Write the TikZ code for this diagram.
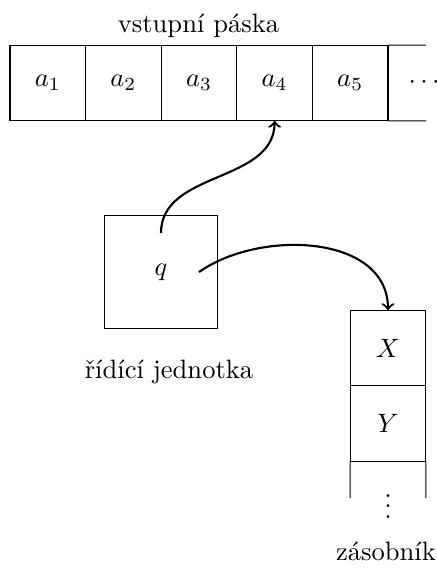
\documentclass[tikz,border=0pt]{standalone}
\usetikzlibrary{calc}
\begin{document}
\begin{tikzpicture}[x=0.013228cm,y=-0.013228cm,
  cell/.style={draw,minimum size=1cm,inner sep=0pt,outer sep=0pt},
  unit/.style={draw,minimum size=1.5cm,inner sep=0pt,outer sep=0pt},
  link/.style={thick,->}]
\useasboundingbox (0,0) rectangle (437,568);

% input tape
\node (tapelabel) at (198.5,25.5) {vstupní páska};
\node[cell] (c1) at (47.8,83) {$a_1$};
\node[cell] (c2) at (123.4,83) {$a_2$};
\node[cell] (c3) at (199,83) {$a_3$};
\node[cell] (c4) at (274.6,83) {$a_4$};
\node[cell] (c5) at (350.2,83) {$a_5$};
\coordinate (tapeNE) at (426,45.2);
\coordinate (tapeSE) at (426,120.8);
\draw (c5.north east) -- (tapeNE);
\draw (c5.south east) -- (tapeSE);
\node (tapedots) at (424,83) {$\cdots$};

% control unit
\node[unit] (ctrl) at (161,272) {$q$};
\node (ctrllabel) at (169,372) {řídící jednotka};
\coordinate (qtop) at (161,233);
\coordinate (qright) at (199,272);

% stack
\node[cell] (sx) at (388,348) {$X$};
\node[cell] (sy) at (388,423.6) {$Y$};
\coordinate (stackL) at (350.2,498);
\coordinate (stackR) at (425.8,498);
\draw (sy.south west) -- (stackL);
\draw (sy.south east) -- (stackR);
\node[inner sep=0pt,anchor=south] (stackdots) at (388,519) {$\vdots$};
\node (stacklabel) at (386,551) {zásobník};

% head movements
\draw[link] (qtop) to[out=90,in=-90] (c4.south);
\draw[link] (qright) to[out=35,in=90] (sx.north);
\end{tikzpicture}
\end{document}
